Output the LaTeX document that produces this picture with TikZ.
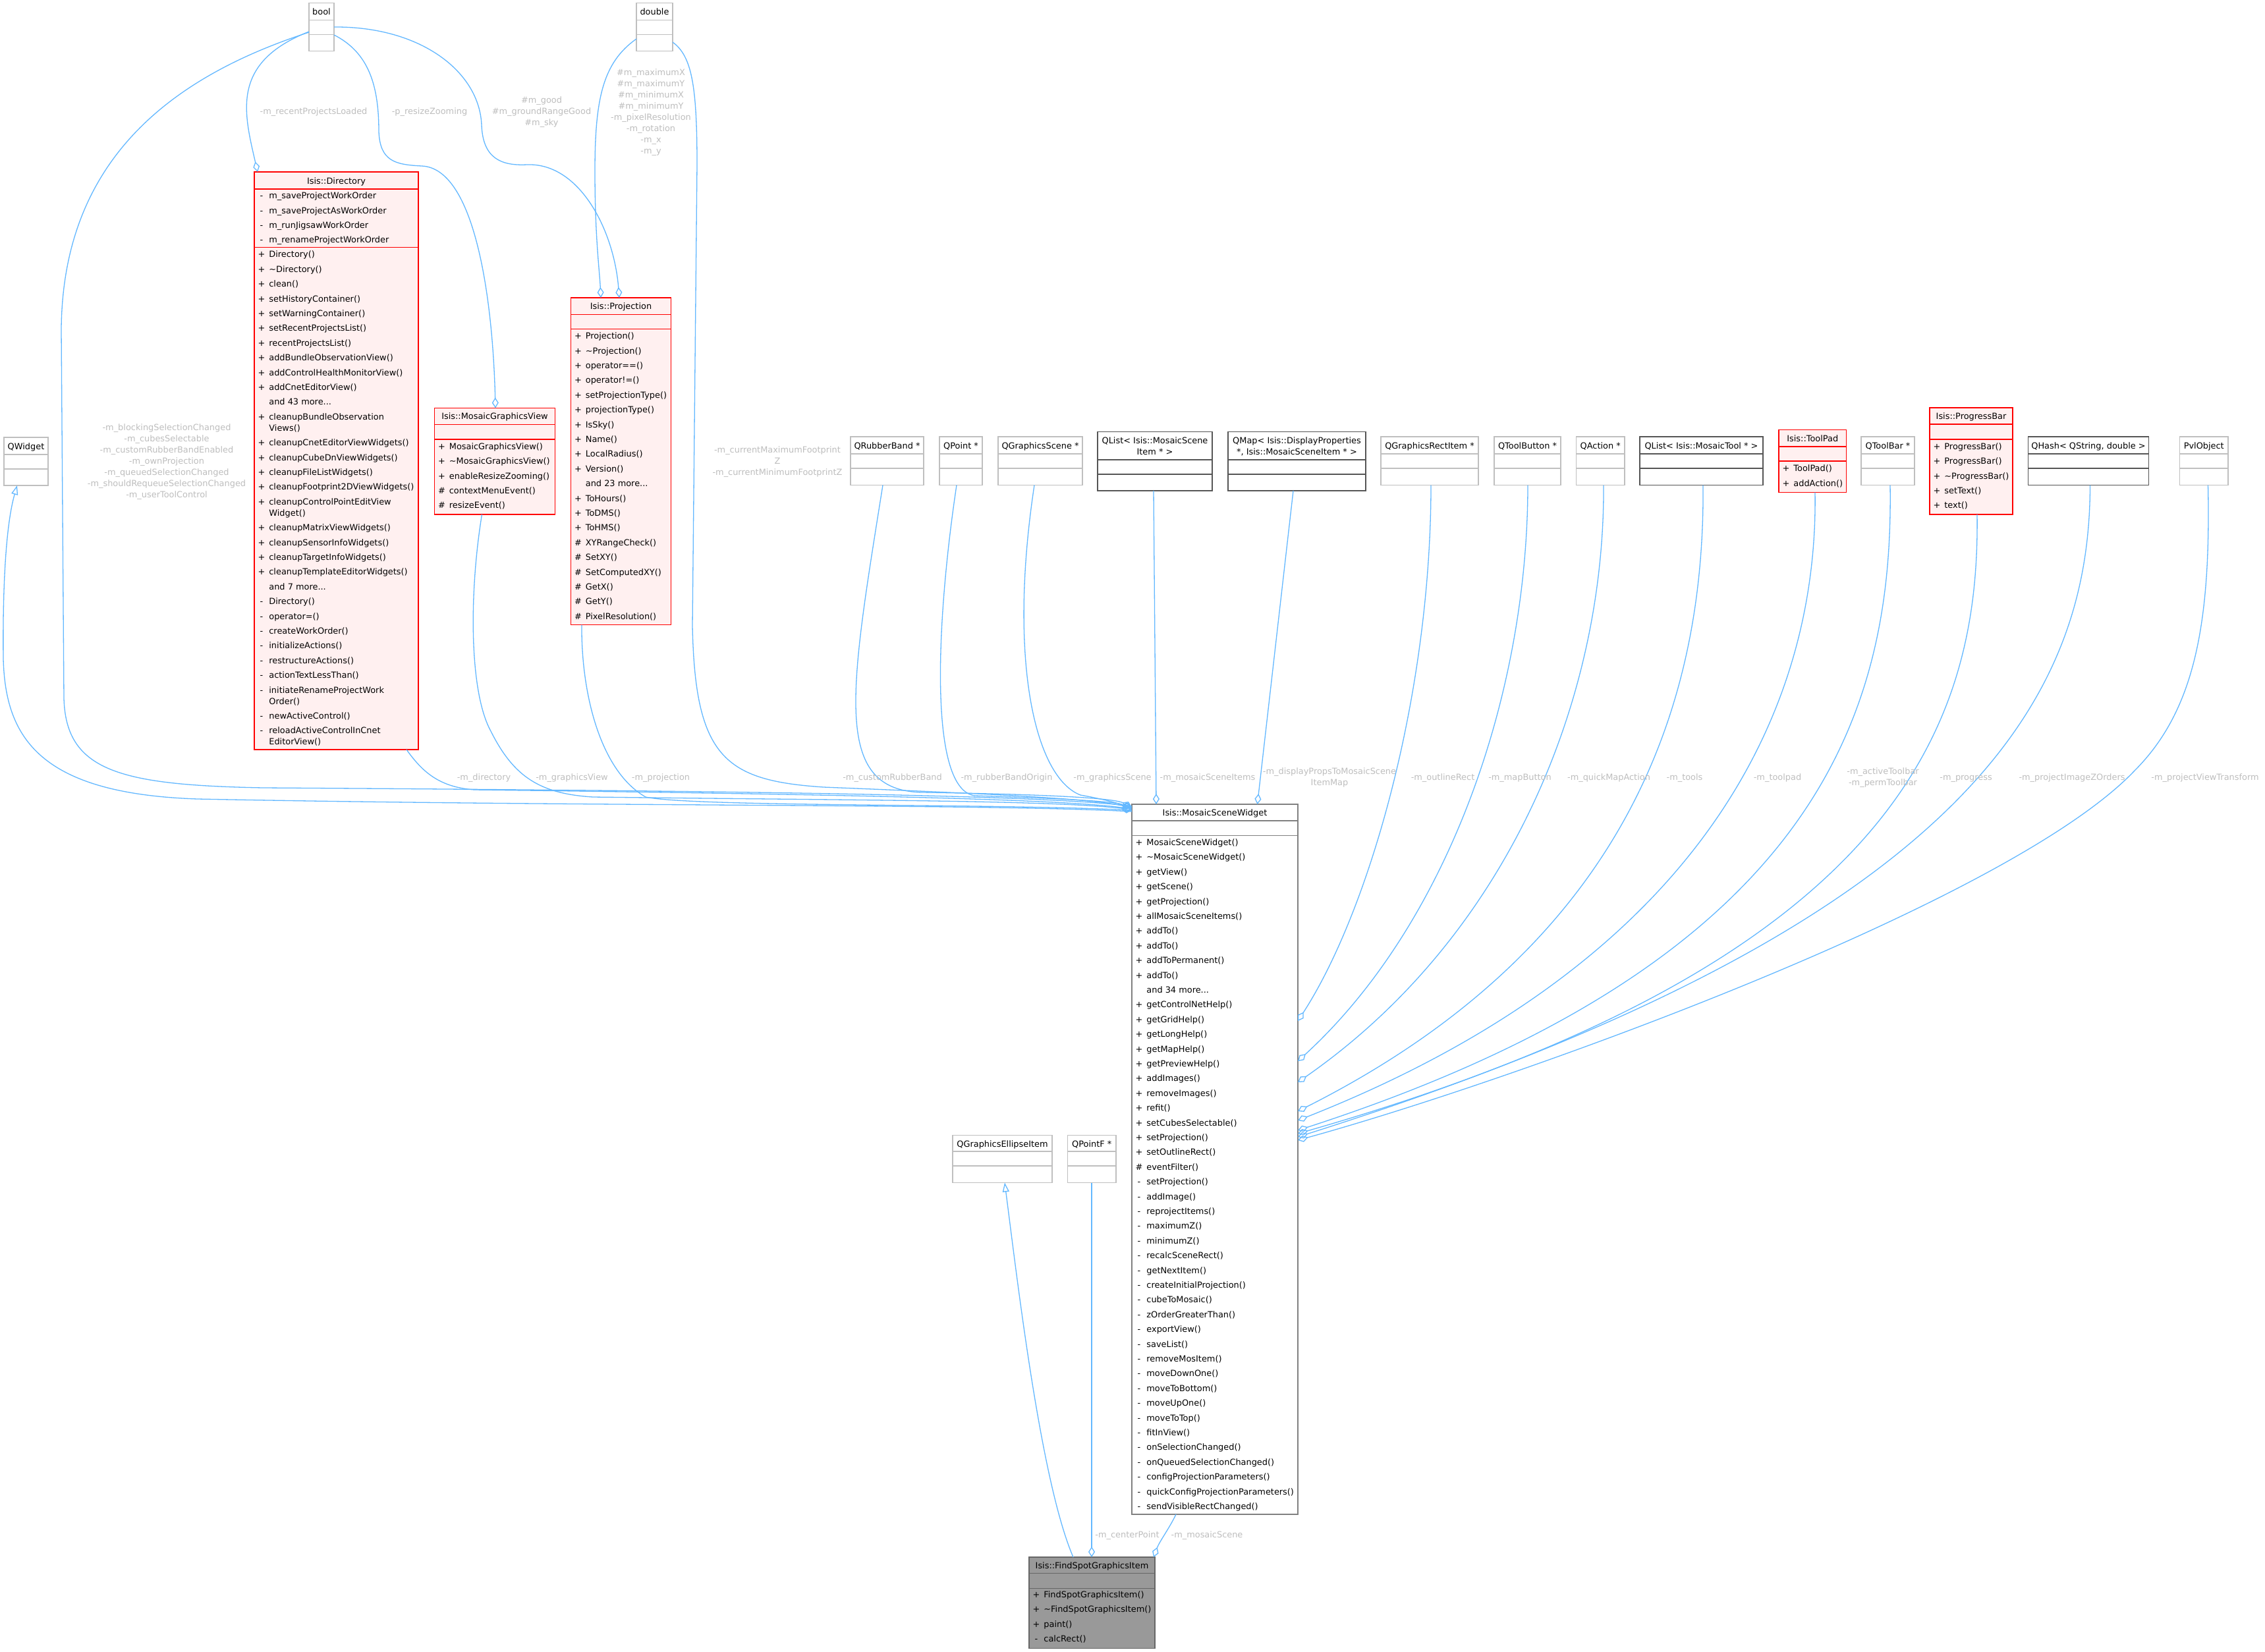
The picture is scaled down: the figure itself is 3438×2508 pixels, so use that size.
\documentclass[tikz,border=0pt]{standalone}
\usepackage{fontspec}
\setmainfont{DejaVu Sans}
\usetikzlibrary{arrows.meta}
\definecolor{cgray}{RGB}{191,191,191}
\definecolor{cdark}{RGB}{85,85,85}
\definecolor{cmid}{RGB}{128,128,128}
\definecolor{cred}{RGB}{255,0,0}
\definecolor{cpink}{RGB}{255,240,240}
\definecolor{cfind}{RGB}{153,153,153}
\definecolor{cfindb}{RGB}{102,102,102}
\definecolor{cedge}{RGB}{99,184,255}
\definecolor{clabel}{RGB}{190,190,190}
\newcommand{\fs}{\fontsize{12.9}{17}\selectfont}
\newcommand{\vm}[2]{\makebox[10pt][c]{#1}\hspace{6.4pt}#2}
\newcommand{\cn}[1]{\hspace*{16.4pt}#1}
\newcommand{\sr}{\rule{0pt}{10pt}}
\newcommand{\hsep}[3]{\draw[draw=#1,line width=1.5pt] ([yshift=-#3pt]#2.north west) -- ([yshift=-#3pt]#2.north east);}
\tikzset{
  gb/.style={draw=cgray, fill=white, line width=1.5pt, anchor=north west, rectangle},
  db/.style={draw=cdark, fill=white, line width=1.5pt, anchor=north west, rectangle},
  rb/.style={draw=cred, fill=cpink, line width=1.5pt, anchor=north west, rectangle},
  mb/.style={draw=cmid, fill=white, line width=1.5pt, anchor=north west, rectangle},
  fb/.style={draw=cfindb, fill=cfind, line width=1.5pt, anchor=north west, rectangle},
  txt/.style={anchor=north west, align=left},
  lbl/.style={anchor=north, align=center, text=clabel},
  uses/.style={draw=cedge, line width=1.3pt, -{Diamond[open,length=16pt,width=10pt]}},
  inherit/.style={draw=cedge, line width=1.3pt, {Triangle[open,length=14pt,width=10pt]}-},
}
\begin{document}
\begin{tikzpicture}[x=1pt,y=-1pt,every node/.style={inner sep=0pt,outer sep=0pt,font=\fs}]
\fill[white] (0,0) rectangle (3438,2508);
\useasboundingbox (0,0) rectangle (3438,2508);

% ---------- top small boxes ----------
\node[gb, minimum width=38pt, minimum height=73pt] (bool) at (469,4.5) {};
\hsep{cgray}{bool}{26}\hsep{cgray}{bool}{48}
\node[anchor=base] (boolH) at ([yshift=-18.5pt]bool.north) {bool};

\node[gb, minimum width=55pt, minimum height=73pt] (double) at (966,4.5) {};
\hsep{cgray}{double}{26}\hsep{cgray}{double}{48}
\node[anchor=base] (doubleH) at ([yshift=-18.5pt]double.north) {double};

\node[gb, minimum width=67pt, minimum height=73pt] (qwidget) at (6,664) {};
\hsep{cgray}{qwidget}{26}\hsep{cgray}{qwidget}{48}
\node[anchor=base] (qwidgetH) at ([yshift=-18.5pt]qwidget.north) {QWidget};

% ---------- Isis::Directory ----------
\node[rb, minimum width=249pt, minimum height=877pt] (dir) at (386,261) {};
\hsep{cred}{dir}{26}\hsep{cred}{dir}{114.5}
\node[anchor=base] (dirH) at ([yshift=-18pt]dir.north) {Isis::Directory};
\node[txt] (dirA) at ([xshift=6pt,yshift=-30.7pt]dir.north west) {\sr\vm{-}{m\_saveProjectWorkOrder}\\[5.4pt]
\vm{-}{m\_saveProjectAsWorkOrder}\\[5.4pt]
\vm{-}{m\_runJigsawWorkOrder}\\[5.4pt]
\vm{-}{m\_renameProjectWorkOrder}};
\node[txt] (dirM) at ([xshift=6pt,yshift=-119.9pt]dir.north west) {\sr\vm{+}{Directory()}\\[5.4pt]
\vm{+}{\textasciitilde Directory()}\\[5.4pt]
\vm{+}{clean()}\\[5.4pt]
\vm{+}{setHistoryContainer()}\\[5.4pt]
\vm{+}{setWarningContainer()}\\[5.4pt]
\vm{+}{setRecentProjectsList()}\\[5.4pt]
\vm{+}{recentProjectsList()}\\[5.4pt]
\vm{+}{addBundleObservationView()}\\[5.4pt]
\vm{+}{addControlHealthMonitorView()}\\[5.4pt]
\vm{+}{addCnetEditorView()}\\[5.4pt]
\cn{and 43 more...}\\[5.4pt]
\vm{+}{cleanupBundleObservation}\\
\cn{Views()}\\[5.4pt]
\vm{+}{cleanupCnetEditorViewWidgets()}\\[5.4pt]
\vm{+}{cleanupCubeDnViewWidgets()}\\[5.4pt]
\vm{+}{cleanupFileListWidgets()}\\[5.4pt]
\vm{+}{cleanupFootprint2DViewWidgets()}\\[5.4pt]
\vm{+}{cleanupControlPointEditView}\\
\cn{Widget()}\\[5.4pt]
\vm{+}{cleanupMatrixViewWidgets()}\\[5.4pt]
\vm{+}{cleanupSensorInfoWidgets()}\\[5.4pt]
\vm{+}{cleanupTargetInfoWidgets()}\\[5.4pt]
\vm{+}{cleanupTemplateEditorWidgets()}\\[5.4pt]
\cn{and 7 more...}\\[5.4pt]
\vm{-}{Directory()}\\[5.4pt]
\vm{-}{operator=()}\\[5.4pt]
\vm{-}{createWorkOrder()}\\[5.4pt]
\vm{-}{initializeActions()}\\[5.4pt]
\vm{-}{restructureActions()}\\[5.4pt]
\vm{-}{actionTextLessThan()}\\[5.4pt]
\vm{-}{initiateRenameProjectWork}\\
\cn{Order()}\\[5.4pt]
\vm{-}{newActiveControl()}\\[5.4pt]
\vm{-}{reloadActiveControlInCnet}\\
\cn{EditorView()}};

% ---------- Isis::MosaicGraphicsView ----------
\node[rb, minimum width=183pt, minimum height=161.5pt] (mgv) at (659.5,619.5) {};
\hsep{cred}{mgv}{25}\hsep{cred}{mgv}{47.5}
\node[anchor=base] (mgvH) at ([yshift=-17.2pt]mgv.north) {Isis::MosaicGraphicsView};
\node[txt] (mgvM) at ([xshift=6pt,yshift=-52.7pt]mgv.north west) {\sr\vm{+}{MosaicGraphicsView()}\\[5.4pt]
\vm{+}{\textasciitilde MosaicGraphicsView()}\\[5.4pt]
\vm{+}{enableResizeZooming()}\\[5.4pt]
\vm{\#}{contextMenuEvent()}\\[5.4pt]
\vm{\#}{resizeEvent()}};

% ---------- Isis::Projection ----------
\node[rb, minimum width=152pt, minimum height=496.5pt] (proj) at (866.5,452) {};
\hsep{cred}{proj}{25.5}\hsep{cred}{proj}{47.5}
\node[anchor=base] (projH) at ([yshift=-17.5pt]proj.north) {Isis::Projection};
\node[txt] (projM) at ([xshift=6pt,yshift=-52.7pt]proj.north west) {\sr\vm{+}{Projection()}\\[5.4pt]
\vm{+}{\textasciitilde Projection()}\\[5.4pt]
\vm{+}{operator==()}\\[5.4pt]
\vm{+}{operator!=()}\\[5.4pt]
\vm{+}{setProjectionType()}\\[5.4pt]
\vm{+}{projectionType()}\\[5.4pt]
\vm{+}{IsSky()}\\[5.4pt]
\vm{+}{Name()}\\[5.4pt]
\vm{+}{LocalRadius()}\\[5.4pt]
\vm{+}{Version()}\\[5.4pt]
\cn{and 23 more...}\\[5.4pt]
\vm{+}{ToHours()}\\[5.4pt]
\vm{+}{ToDMS()}\\[5.4pt]
\vm{+}{ToHMS()}\\[5.4pt]
\vm{\#}{XYRangeCheck()}\\[5.4pt]
\vm{\#}{SetXY()}\\[5.4pt]
\vm{\#}{SetComputedXY()}\\[5.4pt]
\vm{\#}{GetX()}\\[5.4pt]
\vm{\#}{GetY()}\\[5.4pt]
\vm{\#}{PixelResolution()}};

% ---------- middle row ----------
\node[gb, minimum width=111pt, minimum height=73.5pt] (qrb) at (1291,663) {};
\hsep{cgray}{qrb}{26}\hsep{cgray}{qrb}{48}
\node[anchor=base] (qrbH) at ([yshift=-18.5pt]qrb.north) {QRubberBand *};

\node[gb, minimum width=65pt, minimum height=73.5pt] (qpoint) at (1426,663) {};
\hsep{cgray}{qpoint}{26}\hsep{cgray}{qpoint}{48}
\node[anchor=base] (qpointH) at ([yshift=-18.5pt]qpoint.north) {QPoint *};

\node[gb, minimum width=128pt, minimum height=73.5pt] (qgs) at (1515,663) {};
\hsep{cgray}{qgs}{26}\hsep{cgray}{qgs}{48}
\node[anchor=base] (qgsH) at ([yshift=-18.5pt]qgs.north) {QGraphicsScene *};

\node[db, minimum width=174pt, minimum height=89.5pt] (qlistmsi) at (1666,655.5) {};
\hsep{cdark}{qlistmsi}{42.5}\hsep{cdark}{qlistmsi}{64.5}
\node[anchor=north, align=center] (qlistmsiH) at ([yshift=-8.2pt]qlistmsi.north) {\sr QList< Isis::MosaicScene\\Item * >};

\node[db, minimum width=209pt, minimum height=89.5pt] (qmap) at (1864,655.5) {};
\hsep{cdark}{qmap}{42.5}\hsep{cdark}{qmap}{64.5}
\node[anchor=north, align=center] (qmapH) at ([yshift=-8.2pt]qmap.north) {\sr QMap< Isis::DisplayProperties\\*, Isis::MosaicSceneItem * >};

\node[gb, minimum width=148pt, minimum height=73.5pt] (qgri) at (2096,663) {};
\hsep{cgray}{qgri}{26}\hsep{cgray}{qgri}{48}
\node[anchor=base] (qgriH) at ([yshift=-18.5pt]qgri.north) {QGraphicsRectItem *};

\node[gb, minimum width=101pt, minimum height=73.5pt] (qtb) at (2268,663) {};
\hsep{cgray}{qtb}{26}\hsep{cgray}{qtb}{48}
\node[anchor=base] (qtbH) at ([yshift=-18.5pt]qtb.north) {QToolButton *};

\node[gb, minimum width=73.5pt, minimum height=73.5pt] (qact) at (2392.5,663) {};
\hsep{cgray}{qact}{26}\hsep{cgray}{qact}{48}
\node[anchor=base] (qactH) at ([yshift=-18.5pt]qact.north) {QAction *};

\node[db, minimum width=187pt, minimum height=73.5pt] (qlisttool) at (2489,663) {};
\hsep{cdark}{qlisttool}{26}\hsep{cdark}{qlisttool}{48}
\node[anchor=base] (qlisttoolH) at ([yshift=-18.5pt]qlisttool.north) {QList< Isis::MosaicTool * >};

\node[rb, minimum width=102.5pt, minimum height=95pt] (toolpad) at (2700,652.5) {};
\hsep{cred}{toolpad}{25.5}\hsep{cred}{toolpad}{47.5}
\node[anchor=base] (toolpadH) at ([yshift=-17.5pt]toolpad.north) {Isis::ToolPad};
\node[txt] (toolpadM) at ([xshift=6pt,yshift=-53.2pt]toolpad.north west) {\sr\vm{+}{ToolPad()}\\[5.4pt]
\vm{+}{addAction()}};

\node[gb, minimum width=81pt, minimum height=73.5pt] (qtbar) at (2825,663) {};
\hsep{cgray}{qtbar}{26}\hsep{cgray}{qtbar}{48}
\node[anchor=base] (qtbarH) at ([yshift=-18.5pt]qtbar.north) {QToolBar *};

\node[rb, minimum width=126pt, minimum height=162pt] (pbar) at (2929,619) {};
\hsep{cred}{pbar}{25}\hsep{cred}{pbar}{48}
\node[anchor=base] (pbarH) at ([yshift=-17.5pt]pbar.north) {Isis::ProgressBar};
\node[txt] (pbarM) at ([xshift=6pt,yshift=-53.2pt]pbar.north west) {\sr\vm{+}{ProgressBar()}\\[5.4pt]
\vm{+}{ProgressBar()}\\[5.4pt]
\vm{+}{\textasciitilde ProgressBar()}\\[5.4pt]
\vm{+}{setText()}\\[5.4pt]
\vm{+}{text()}};

\node[db, minimum width=183pt, minimum height=73.5pt] (qhash) at (3078.5,663) {};
\hsep{cdark}{qhash}{26}\hsep{cdark}{qhash}{48}
\node[anchor=base] (qhashH) at ([yshift=-18.5pt]qhash.north) {QHash< QString, double >};

\node[gb, minimum width=73.5pt, minimum height=73.5pt] (pvl) at (3308.5,663) {};
\hsep{cgray}{pvl}{26}\hsep{cgray}{pvl}{48}
\node[anchor=base] (pvlH) at ([yshift=-18.5pt]pvl.north) {PvlObject};

% ---------- Isis::MosaicSceneWidget ----------
\node[mb, minimum width=252pt, minimum height=1078pt] (msw) at (1718,1221) {};
\hsep{cmid}{msw}{25}\hsep{cmid}{msw}{47.5}
\node[anchor=base] (mswH) at ([yshift=-17.7pt]msw.north) {Isis::MosaicSceneWidget};
\node[txt] (mswM) at ([xshift=6pt,yshift=-52.5pt]msw.north west) {\sr\vm{+}{MosaicSceneWidget()}\\[5.4pt]
\vm{+}{\textasciitilde MosaicSceneWidget()}\\[5.4pt]
\vm{+}{getView()}\\[5.4pt]
\vm{+}{getScene()}\\[5.4pt]
\vm{+}{getProjection()}\\[5.4pt]
\vm{+}{allMosaicSceneItems()}\\[5.4pt]
\vm{+}{addTo()}\\[5.4pt]
\vm{+}{addTo()}\\[5.4pt]
\vm{+}{addToPermanent()}\\[5.4pt]
\vm{+}{addTo()}\\[5.4pt]
\cn{and 34 more...}\\[5.4pt]
\vm{+}{getControlNetHelp()}\\[5.4pt]
\vm{+}{getGridHelp()}\\[5.4pt]
\vm{+}{getLongHelp()}\\[5.4pt]
\vm{+}{getMapHelp()}\\[5.4pt]
\vm{+}{getPreviewHelp()}\\[5.4pt]
\vm{+}{addImages()}\\[5.4pt]
\vm{+}{removeImages()}\\[5.4pt]
\vm{+}{refit()}\\[5.4pt]
\vm{+}{setCubesSelectable()}\\[5.4pt]
\vm{+}{setProjection()}\\[5.4pt]
\vm{+}{setOutlineRect()}\\[5.4pt]
\vm{\#}{eventFilter()}\\[5.4pt]
\vm{-}{setProjection()}\\[5.4pt]
\vm{-}{addImage()}\\[5.4pt]
\vm{-}{reprojectItems()}\\[5.4pt]
\vm{-}{maximumZ()}\\[5.4pt]
\vm{-}{minimumZ()}\\[5.4pt]
\vm{-}{recalcSceneRect()}\\[5.4pt]
\vm{-}{getNextItem()}\\[5.4pt]
\vm{-}{createInitialProjection()}\\[5.4pt]
\vm{-}{cubeToMosaic()}\\[5.4pt]
\vm{-}{zOrderGreaterThan()}\\[5.4pt]
\vm{-}{exportView()}\\[5.4pt]
\vm{-}{saveList()}\\[5.4pt]
\vm{-}{removeMosItem()}\\[5.4pt]
\vm{-}{moveDownOne()}\\[5.4pt]
\vm{-}{moveToBottom()}\\[5.4pt]
\vm{-}{moveUpOne()}\\[5.4pt]
\vm{-}{moveToTop()}\\[5.4pt]
\vm{-}{fitInView()}\\[5.4pt]
\vm{-}{onSelectionChanged()}\\[5.4pt]
\vm{-}{onQueuedSelectionChanged()}\\[5.4pt]
\vm{-}{configProjectionParameters()}\\[5.4pt]
\vm{-}{quickConfigProjectionParameters()}\\[5.4pt]
\vm{-}{sendVisibleRectChanged()}};

% ---------- bottom boxes ----------
\node[gb, minimum width=151pt, minimum height=72pt] (qgei) at (1446,1723.5) {};
\hsep{cgray}{qgei}{24.5}\hsep{cgray}{qgei}{46.5}
\node[anchor=base] (qgeiH) at ([yshift=-17.8pt]qgei.north) {QGraphicsEllipseItem};

\node[gb, minimum width=73.5pt, minimum height=72pt] (qpf) at (1620.5,1723.5) {};
\hsep{cgray}{qpf}{24.5}\hsep{cgray}{qpf}{46.5}
\node[anchor=base] (qpfH) at ([yshift=-17.8pt]qpf.north) {QPointF *};

\node[fb, minimum width=191pt, minimum height=138.5pt] (fs) at (1562,2364) {};
\hsep{cfindb}{fs}{24.5}\hsep{cfindb}{fs}{47.5}
\node[anchor=base] (fsH) at ([yshift=-17pt]fs.north) {Isis::FindSpotGraphicsItem};
\node[txt] (fsM) at ([xshift=6pt,yshift=-51.3pt]fs.north west) {\sr\vm{+}{FindSpotGraphicsItem()}\\[5.4pt]
\vm{+}{\textasciitilde FindSpotGraphicsItem()}\\[5.4pt]
\vm{+}{paint()}\\[5.4pt]
\vm{-}{calcRect()}};

% ---------- edges ----------
\draw[uses] ([yshift=-7pt]bool.west) .. controls (350,95) and (370,170) .. ([xshift=5pt]dir.north west);
\draw[uses] ([yshift=-8pt]bool.west) .. controls (250,120) and (95,250) .. (93,500) -- (97,1060) .. controls (100,1170) and (180,1192) .. (400,1196) .. controls (1000,1200) and (1550,1205) .. ([yshift=-3pt]msw.north west);
\draw[uses] ([yshift=-12pt]bool.east) .. controls (560,80) and (575,130) .. (575,200) .. controls (577,245) and (600,250) .. (640,252) .. controls (720,255) and (748,450) .. ([xshift=92.5pt]mgv.north west);
\draw[uses] (bool.east) .. controls (640,40) and (728,110) .. (731,190) .. controls (733,240) and (760,252) .. (800,250) .. controls (880,247) and (932,350) .. ([xshift=73.5pt]proj.north west);
\draw[uses] ([yshift=-18pt]double.west) .. controls (915,95) and (903,150) .. (903,260) .. controls (903,360) and (910,410) .. ([xshift=45.5pt]proj.north west);
\draw[uses] ([yshift=-23pt]double.east) .. controls (1050,85) and (1058,130) .. (1058,250) -- (1051,950) .. controls (1055,1150) and (1100,1185) .. (1250,1195) .. controls (1500,1205) and (1650,1212) .. ([yshift=-5pt]msw.north west);
\draw[inherit] ([xshift=20pt]qwidget.south west) .. controls (8,800) and (4,900) .. (5,1000) .. controls (8,1120) and (60,1205) .. (300,1213) .. controls (900,1225) and (1500,1220) .. ([yshift=-11pt]msw.north west);
\draw[uses] ([xshift=231pt]dir.south west) .. controls (640,1170) and (665,1195) .. (720,1199) .. controls (1200,1205) and (1600,1212) .. ([yshift=-7pt]msw.north west);
\draw[uses] ([xshift=72pt]mgv.south west) .. controls (712,900) and (712,1050) .. (745,1110) .. controls (780,1180) and (820,1205) .. (900,1210) .. controls (1300,1215) and (1600,1215) .. ([yshift=-8pt]msw.north west);
\draw[uses] ([xshift=16.5pt]proj.south west) .. controls (882,1050) and (910,1170) .. (980,1210) .. controls (1050,1225) and (1500,1220) .. ([yshift=-9pt]msw.north west);
\draw[uses] ([xshift=49pt]qrb.south west) .. controls (1290,1050) and (1262,1200) .. (1400,1203) .. controls (1600,1206) and (1690,1212) .. ([yshift=-4pt]msw.north west);
\draw[uses] ([xshift=26pt]qpoint.south west) .. controls (1420,950) and (1410,1200) .. (1480,1208) .. controls (1600,1212) and (1690,1216) .. ([yshift=-6pt]msw.north west);
\draw[uses] ([xshift=55pt]qgs.south west) .. controls (1530,1000) and (1570,1180) .. (1640,1207) .. controls (1680,1214) and (1705,1222) .. ([yshift=-10pt]msw.north west);
\draw[uses] ([xshift=85pt]qlistmsi.south west) -- ([xshift=37pt]msw.north west);
\draw[uses] ([xshift=99pt]qmap.south west) -- ([xshift=190.5pt]msw.north west);
\draw[uses] ([xshift=76pt]qgri.south west) .. controls (2172,1050) and (2080,1380) .. ([yshift=-329pt]msw.north east);
\draw[uses] ([xshift=51pt]qtb.south west) .. controls (2319,1050) and (2200,1400) .. ([yshift=-390pt]msw.north east);
\draw[uses] ([xshift=41.5pt]qact.south west) .. controls (2436,1060) and (2290,1420) .. ([yshift=-422pt]msw.north east);
\draw[uses] ([xshift=96pt]qlisttool.south west) .. controls (2588,1080) and (2460,1440) .. ([yshift=-466pt]msw.north east);
\draw[uses] ([xshift=55pt]toolpad.south west) .. controls (2760,1080) and (2580,1460) .. ([yshift=-480pt]msw.north east);
\draw[uses] ([xshift=44pt]qtbar.south west) .. controls (2874,1080) and (2760,1460) .. ([yshift=-495pt]msw.north east);
\draw[uses] ([xshift=72pt]pbar.south west) .. controls (3005,1100) and (2880,1460) .. ([yshift=-500pt]msw.north east);
\draw[uses] ([xshift=94pt]qhash.south west) .. controls (3172,1050) and (3000,1400) .. ([yshift=-505pt]msw.north east);
\draw[uses] ([xshift=43pt]pvl.south west) .. controls (3356,950) and (3330,1080) .. (3240,1170) .. controls (3050,1370) and (2300,1640) .. ([yshift=-510pt]msw.north east);
\draw[inherit] ([xshift=79pt]qgei.south west) .. controls (1545,1950) and (1580,2250) .. ([xshift=67pt]fs.north west);
\draw[uses] ([xshift=36.5pt]qpf.south west) -- ([xshift=95pt]fs.north west);
\draw[uses] ([xshift=67pt]msw.south west) .. controls (1775,2320) and (1760,2340) .. ([xshift=-2pt]fs.north east);

% ---------- edge labels ----------
\node[lbl] (l1) at (476,163.7) {\sr-m\_recentProjectsLoaded};
\node[lbl] (l2) at (652,163.7) {\sr-p\_resizeZooming};
\node[lbl] (l3) at (822,146.7) {\sr\#m\_good\\\#m\_groundRangeGood\\\#m\_sky};
\node[lbl] (l4) at (988,104.4) {\sr\#m\_maximumX\\\#m\_maximumY\\\#m\_minimumX\\\#m\_minimumY\\-m\_pixelResolution\\-m\_rotation\\-m\_x\\-m\_y};
\node[lbl] (l5) at (253,643.7) {\sr-m\_blockingSelectionChanged\\-m\_cubesSelectable\\-m\_customRubberBandEnabled\\-m\_ownProjection\\-m\_queuedSelectionChanged\\-m\_shouldRequeueSelectionChanged\\-m\_userToolControl};
\node[lbl] (l6) at (1180,677.7) {\sr-m\_currentMaximumFootprint\\Z\\-m\_currentMinimumFootprintZ};
\node[lbl] (l7) at (734.5,1174.7) {\sr-m\_directory};
\node[lbl] (l8) at (868,1174.7) {\sr-m\_graphicsView};
\node[lbl] (l9) at (1003,1174.7) {\sr-m\_projection};
\node[lbl] (l10) at (1354.5,1174.7) {\sr-m\_customRubberBand};
\node[lbl] (l11) at (1528,1174.7) {\sr-m\_rubberBandOrigin};
\node[lbl] (l12) at (1688.5,1174.7) {\sr-m\_graphicsScene};
\node[lbl] (l13) at (1833,1174.7) {\sr-m\_mosaicSceneItems};
\node[lbl] (l14) at (2018,1165.7) {\sr-m\_displayPropsToMosaicScene\\ItemMap};
\node[lbl] (l15) at (2190,1174.7) {\sr-m\_outlineRect};
\node[lbl] (l16) at (2307,1174.7) {\sr-m\_mapButton};
\node[lbl] (l17) at (2442,1174.7) {\sr-m\_quickMapAction};
\node[lbl] (l18) at (2557,1174.7) {\sr-m\_tools};
\node[lbl] (l19) at (2698,1174.7) {\sr-m\_toolpad};
\node[lbl] (l20) at (2858,1165.7) {\sr-m\_activeToolbar\\-m\_permToolbar};
\node[lbl] (l21) at (2984,1174.7) {\sr-m\_progress};
\node[lbl] (l22) at (3145,1174.7) {\sr-m\_projectImageZOrders};
\node[lbl] (l23) at (3347,1174.7) {\sr-m\_projectViewTransform};
\node[lbl] (l24) at (1711,2324.7) {\sr-m\_centerPoint};
\node[lbl] (l25) at (1832,2324.7) {\sr-m\_mosaicScene};
\end{tikzpicture}
\end{document}
